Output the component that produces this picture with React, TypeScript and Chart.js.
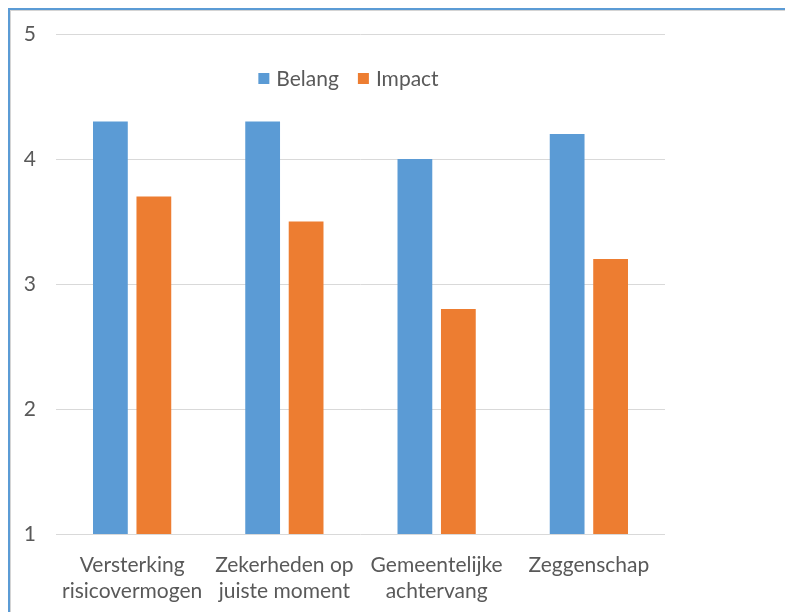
import React, { useEffect, useRef } from "react";
import { Chart, registerables } from "chart.js";

Chart.register(...registerables);

const categories: string[][] = [
  ["Versterking", "risicovermogen"],
  ["Zekerheden op", "juiste moment"],
  ["Gemeentelijke", "achtervang"],
  ["Zeggenschap"],
];
const belang: number[] = [4.3, 4.3, 4.0, 4.2];
const impact: number[] = [3.7, 3.5, 2.8, 3.2];
const seriesNames: string[] = ["Belang", "Impact"];
const yMin = 1;
const yMax = 5;

const BLUE = "#5b9bd5";
const ORANGE = "#ed7d31";
const TEXT = "#595959";
const FONT = "Lato, 'Open Sans', sans-serif";
const FS = 21;

const innerLegend = {
  id: "innerLegend",
  afterDraw(chart: any) {
    const ctx = chart.ctx;
    const area = chart.chartArea;
    ctx.save();
    ctx.font = `${FS}px ${FONT}`;
    ctx.textBaseline = "middle";
    const box = 11;
    const gap = 7;
    const itemGap = 19;
    const items = chart.data.datasets.map((d: any) => ({
      label: d.label,
      color: d.backgroundColor,
      w: box + gap + ctx.measureText(d.label).width,
    }));
    const total = items.reduce((s: number, it: any) => s + it.w, 0) + itemGap * (items.length - 1);
    const cx = (area.left + area.right) / 2 - 12;
    let x = cx - total / 2;
    const y = area.top + 44.5;
    for (const it of items) {
      ctx.fillStyle = it.color;
      ctx.fillRect(x, y - box / 2, box, box);
      ctx.fillStyle = TEXT;
      ctx.textAlign = "left";
      ctx.fillText(it.label, x + box + gap, y + 1);
      x += it.w + itemGap;
    }
    ctx.restore();
  },
};

export default function App() {
  const ref = useRef<HTMLCanvasElement>(null);
  useEffect(() => {
    document.documentElement.style.overflow = "hidden";
    document.body.style.overflow = "hidden";
    if (!ref.current) return;
    const chart = new Chart(ref.current, {
      type: "bar",
      data: {
        labels: categories,
        datasets: [
          { label: seriesNames[0], data: belang, backgroundColor: BLUE },
          { label: seriesNames[1], data: impact, backgroundColor: ORANGE },
        ],
      },
      options: {
        animation: false,
        responsive: false,
        maintainAspectRatio: false,
        layout: { padding: { top: 23, right: 120, bottom: 0, left: 0 } },
        datasets: {
          bar: { barPercentage: 0.8, categoryPercentage: 0.571 },
        },
        plugins: {
          legend: { display: false },
          tooltip: { enabled: false },
        },
        scales: {
          x: {
            grid: { display: false, drawTicks: false },
            border: { display: false },
            ticks: {
              color: TEXT,
              font: { family: FONT, size: FS, lineHeight: 1.24 },
              padding: 18,
              maxRotation: 0,
              autoSkip: false,
            },
            afterFit: (s: any) => {
              s.height = 78;
              s.paddingLeft = 0;
              s.paddingRight = 0;
            },
          },
          y: {
            min: yMin,
            max: yMax,
            border: { display: false },
            grid: { color: "#d9d9d9", drawTicks: false, lineWidth: 1 },
            ticks: {
              stepSize: 1,
              color: TEXT,
              font: { family: FONT, size: FS },
              padding: 20,
            },
            afterFit: (s: any) => {
              s.width = 45;
              s.paddingTop = 0;
              s.paddingBottom = 0;
            },
          },
        },
      },
      plugins: [innerLegend],
    });
    return () => chart.destroy();
  }, []);
  return (
    <div
      style={{
        position: "absolute",
        left: 8,
        top: 8,
        width: 775,
        height: 602,
        borderTop: "2px solid #5b9bd5",
        borderLeft: "2px solid #5b9bd5",
        background: "#ffffff",
        overflow: "hidden",
      }}
    >
      <div
        style={{
          width: 774,
          height: 601,
          borderTop: "1px solid #d4d4d4",
          borderLeft: "1px solid #d4d4d4",
        }}
      >
        <canvas ref={ref} width={774} height={601} style={{ display: "block" }} />
      </div>
    </div>
  );
}
